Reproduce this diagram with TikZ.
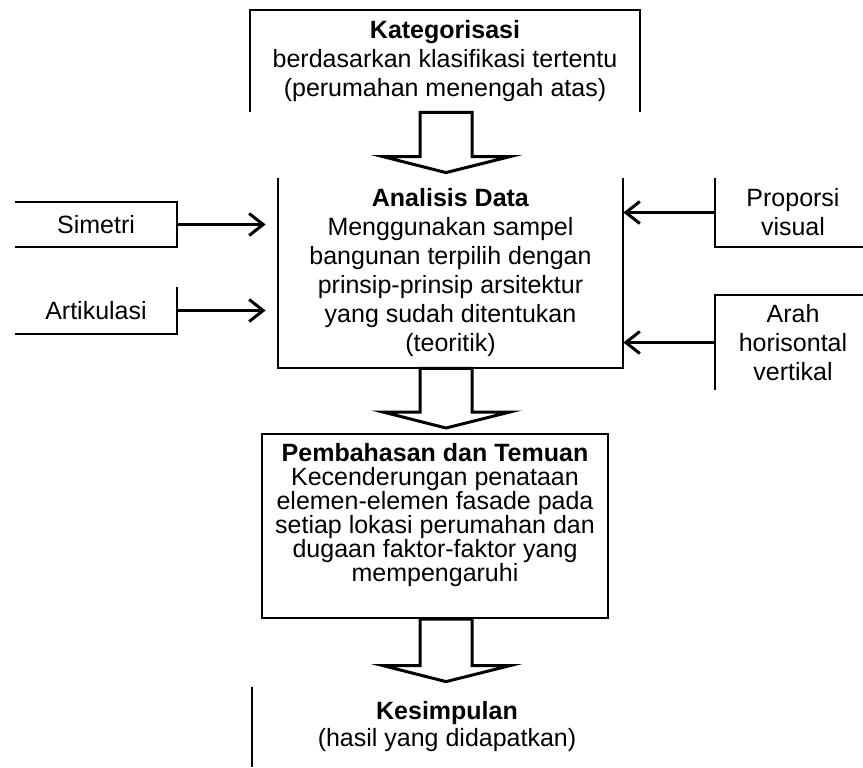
\documentclass[tikz,border=0pt]{standalone}
\usepackage{fontspec}
\setmainfont{Liberation Sans}
\usetikzlibrary{arrows.meta,positioning,calc}
\tikzset{
  box/.style={inner sep=0pt,align=center,font=\fontsize{12.5}{14.5}\selectfont},
  edge/.style={line width=1pt},
  link/.style={line width=1.5pt,-{Straight Barb[length=7pt,width=11pt]}},
  hollow/.style={line width=1.5pt,fill=white,line join=miter}
}
\begin{document}
\begin{tikzpicture}[x=0.5pt,y=-0.5pt]
  \useasboundingbox (0,0) rectangle (863,767);
  \node[box,minimum width=195pt,minimum height=51pt] (kat) at (445,61)
    {\textbf{Kategorisasi}\\berdasarkan klasifikasi tertentu\\(perumahan menengah atas)};
  \node[box,minimum width=172.5pt,minimum height=95pt] (ana) at (450.5,273)
    {\textbf{Analisis Data}\\Menggunakan sampel\\bangunan terpilih dengan\\prinsip-prinsip arsitektur\\yang sudah ditentukan\\(teoritik)};
  \node[box,draw,edge,minimum width=173pt,minimum height=92pt] (bah) at (435,526) {};
  \node[box,font=\fontsize{12.5}{12}\selectfont] (bahtxt) at ($(bah.center)+(0,-11)$)
    {\textbf{Pembahasan dan Temuan}\\Kecenderungan penataan\\elemen-elemen fasade pada\\setiap lokasi perumahan dan\\dugaan faktor-faktor yang\\mempengaruhi};
  \node[box,minimum width=195pt,minimum height=40pt,font=\fontsize{12.5}{13.5}\selectfont] (kes) at (447,727)
    {\textbf{Kesimpulan}\\(hasil yang didapatkan)};
  \node[box,minimum width=81pt,minimum height=22.5pt] (sim) at (96,224.5) {Simetri};
  \node[box,minimum width=81pt,minimum height=23.5pt] (art) at (96,310.5) {Artikulasi};
  \node[box,minimum width=78pt,minimum height=34.5pt] (pro) at (793,212.5) {Proporsi\\visual};
  \node[box,minimum width=78pt,minimum height=47.5pt] (arh) at (793,342.5) {Arah\\horisontal\\vertikal};
  \draw[edge] (kat.south west) |- (kat.north east) -- (kat.south east);
  \draw[edge] (ana.north west) |- (ana.south east) -- (ana.north east);
  \draw[edge] (sim.north west) -| (sim.south east) -- (sim.south west);
  \draw[edge] (art.north east) |- (art.south west);
  \draw[edge] (pro.north west) |- (pro.south east);
  \draw[edge] (arh.north east) -| (arh.south west);
  \draw[edge] (kes.north west) -- (kes.south west);
  \draw[link,shorten >=6pt] (sim.east) -- (sim.east -| ana.west);
  \draw[link,shorten >=6pt] (art.east) -- (art.east -| ana.west);
  \draw[link] (pro.west) -- (pro.west -| ana.east);
  \draw[link] (arh.west) -- (arh.west -| ana.east);
  \foreach \a/\b in {kat/ana,ana/bah,bah/kes}
    \draw[hollow] let \p1=(\a.south), \p2=(\b.north) in
      (210pt,\y1) -- (210pt,\y2+10.5pt) -- (191.5pt,\y2+10.5pt) -- (223pt,\y2+2.5pt)
      -- (255pt,\y2+10.5pt) -- (236pt,\y2+10.5pt) -- (236pt,\y1) -- cycle;
\end{tikzpicture}
\end{document}
